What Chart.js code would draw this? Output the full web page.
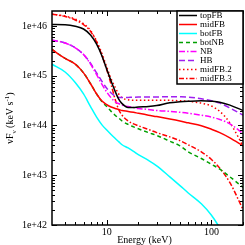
<!DOCTYPE html>
<html>
<head>
<meta charset="utf-8">
<script src="https://cdn.jsdelivr.net/npm/chart.js@4"></script>
<style>
  html, body { margin: 0; padding: 0; background: #fff; }
</style>
</head>
<body>
<canvas id="myChart" width="245" height="245"></canvas>
<script>
// energías (keV) donde se leen las curvas
const energia = [3, 4, 5, 6, 7, 8, 9, 10, 11, 12, 13, 14, 16, 18, 20, 25, 30, 40, 50, 60, 80, 100, 120, 150, 200];

// nuFnu (keV s^-1) de cada modelo
const topFB = [1.07e46, 1.06e46, 9.9e45, 8.7e45, 6.6e45, 4.3e45, 2.5e45, 1.35e45, 7.8e44, 4.9e44, 3.4e44, 2.75e44, 2.3e44, 2.3e44, 2.35e44, 2.4e44, 2.51e44, 2.87e44, 3.0e44, 3.07e44, 3.14e44, 3.07e44, 2.94e44, 2.57e44, 2.0e44];
const midFB = [3.37e45, 2.23e45, 1.71e45, 1.14e45, 6.9e44, 4.3e44, 3.1e44, 2.63e44, 2.35e44, 2.2e44, 2.1e44, 2.0e44, 1.92e44, 1.84e44, 1.76e44, 1.61e44, 1.51e44, 1.35e44, 1.23e44, 1.13e44, 9.9e43, 8.4e43, 7.2e43, 5.65e43, 3.9e43];
const botFB = [1.7e45, 1.19e45, 7.3e44, 4.3e44, 2.4e44, 1.47e44, 1.03e44, 8.1e43, 6.6e43, 5.53e43, 4.73e43, 4.1e43, 3.54e43, 3.03e43, 2.6e43, 1.99e43, 1.55e43, 9.3e42, 6.2e42, 4.4e42, 2.67e42, 1.57e42, 8.8e41, null, null];
const botNB = [3.37e45, 2.23e45, 1.71e45, 1.14e45, 6.9e44, 4.3e44, 3.0e44, 2.4e44, 1.92e44, 1.61e44, 1.41e44, 1.23e44, 1.05e44, 9.4e43, 8.6e43, 7.2e43, 6.3e43, 4.84e43, 3.9e43, 2.96e43, 2.17e43, 1.66e43, 1.33e43, 9.3e42, 5.7e42];
const NB = [5.2e45, 4.55e45, 3.64e45, 2.67e45, 1.71e45, 1.05e45, 6.7e44, 4.7e44, 3.6e44, 3.0e44, 2.75e44, 2.57e44, 2.4e44, 2.3e44, 2.2e44, 2.1e44, 2.0e44, 1.92e44, 1.84e44, 1.76e44, 1.61e44, 1.47e44, 1.32e44, 1.08e44, 6.9e43];
const HB = [5.2e45, 4.55e45, 3.64e45, 2.67e45, 1.78e45, 1.14e45, 7.7e44, 5.6e44, 4.5e44, 3.9e44, 3.67e44, 3.64e44, 3.67e44, 3.7e44, 3.72e44, 3.74e44, 3.75e44, 3.8e44, 3.78e44, 3.72e44, 3.44e44, 3.14e44, 2.81e44, 2.25e44, 1.61e44];
const midFB2 = [1.73e46, 1.58e46, 1.38e46, 1.11e46, 8.1e45, 4.97e45, 2.79e45, 1.49e45, 8.7e44, 5.9e44, 4.3e44, 3.6e44, 3.3e44, 3.2e44, 3.2e44, 3.2e44, 3.2e44, 3.2e44, 3.14e44, 3.07e44, 2.81e44, 2.46e44, 1.92e44, 1.13e44, 3.9e43];
const midFB3 = [1.73e46, 1.55e46, 1.32e46, 1.06e46, 7.8e45, 4.75e45, 2.55e45, 1.31e45, 6.7e44, 3.4e44, 2.1e44, 1.61e44, 1.23e44, 1.08e44, 9.9e43, 8.3e43, 7.2e43, 5.9e43, 4.95e43, 4.1e43, 2.96e43, 2.07e43, 1.39e43, 7.1e42, 2.05e42];

// marcas de los ejes
const xMarcas = [10, 100];
const xEtiquetas = ['10', '100'];
const xMenores = [4, 5, 6, 7, 8, 9, 20, 30, 40, 50, 60, 70, 80, 90, 200];
const yMarcas = [1e42, 1e43, 1e44, 1e45, 1e46];
const yEtiquetas = ['1e+42', '1e+43', '1e+44', '1e+45', '1e+46'];
const yMenores = [];
[42, 43, 44, 45].forEach(d => { for (let k = 2; k <= 9; k++) yMenores.push(k * Math.pow(10, d)); });

const puntos = serie => energia.map((e, i) => ({ x: e, y: serie[i] }));

const series = [
  { label: 'topFB', data: topFB, color: '#000000', dash: [] },
  { label: 'midFB', data: midFB, color: '#ff0000', dash: [] },
  { label: 'botFB', data: botFB, color: '#00ffff', dash: [] },
  { label: 'botNB', data: botNB, color: '#00a000', dash: [4, 3] },
  { label: 'NB', data: NB, color: '#ff00ff', dash: [6, 2, 1.5, 2] },
  { label: 'HB', data: HB, color: '#a020f0', dash: [6, 3] },
  { label: 'midFB.2', data: midFB2, color: '#ff0000', dash: [1.5, 2.5] },
  { label: 'midFB.3', data: midFB3, color: '#ff0000', dash: [5, 2, 1.5, 2] }
];

const fuente = "'Liberation Serif', 'DejaVu Serif', serif";

// marco, marcas interiores, leyenda y títulos de los ejes
const marcoPlugin = {
  id: 'marco',
  afterDraw(chart) {
    const ctx = chart.ctx;
    const a = chart.chartArea;
    const xs = chart.scales.x;
    const ys = chart.scales.y;
    ctx.save();
    ctx.strokeStyle = '#000';
    ctx.lineWidth = 1;
    const linea = (x1, y1, x2, y2) => { ctx.beginPath(); ctx.moveTo(x1, y1); ctx.lineTo(x2, y2); ctx.stroke(); };

    xMarcas.concat(xMenores).forEach(v => {
      const px = Math.round(xs.getPixelForValue(v)) + 0.5;
      const largo = xMarcas.includes(v) ? 5 : 3;
      linea(px, a.bottom, px, a.bottom - largo);
      linea(px, a.top, px, a.top + largo);
    });
    yMarcas.concat(yMenores).forEach(v => {
      const py = Math.round(ys.getPixelForValue(v)) + 0.5;
      const largo = yMarcas.includes(v) ? 5 : 3;
      linea(a.left, py, a.left + largo, py);
      linea(a.right, py, a.right - largo, py);
    });

    ctx.lineWidth = 1.5;
    ctx.strokeRect(a.left, a.top, a.right - a.left, a.bottom - a.top);

    // leyenda
    const lx = 177, ly = a.top, lw = a.right - lx, lh = 73;
    ctx.fillStyle = '#fff';
    ctx.fillRect(lx, ly, lw, lh);
    ctx.strokeRect(lx, ly, lw, lh);
    ctx.font = '9px ' + fuente;
    ctx.textBaseline = 'middle';
    ctx.textAlign = 'left';
    chart.data.datasets.forEach((ds, i) => {
      const y = ly + 4.5 + i * 9;
      ctx.strokeStyle = ds.borderColor;
      ctx.lineWidth = 1.5;
      ctx.setLineDash(ds.borderDash || []);
      linea(179, y, 197, y);
      ctx.setLineDash([]);
      ctx.fillStyle = '#000';
      ctx.fillText(ds.label, 200, y + 0.5);
    });

    // título eje x
    ctx.fillStyle = '#000';
    ctx.font = '10px ' + fuente;
    ctx.textAlign = 'center';
    ctx.fillText('Energy (keV)', (a.left + a.right) / 2 - 3, 240);

    // título eje y con subíndice y superíndice
    const partes = [
      { t: 'νF', s: 10, dy: 0 },
      { t: 'ν', s: 7, dy: 2.5 },
      { t: ' (keV s', s: 10, dy: 0 },
      { t: '-1', s: 7, dy: -4 },
      { t: ')', s: 10, dy: 0 }
    ];
    let total = 0;
    partes.forEach(p => { ctx.font = p.s + 'px ' + fuente; p.w = ctx.measureText(p.t).width; total += p.w; });
    ctx.translate(13, (a.top + a.bottom) / 2);
    ctx.rotate(-Math.PI / 2);
    ctx.textAlign = 'left';
    ctx.textBaseline = 'alphabetic';
    let x = -total / 2;
    partes.forEach(p => {
      ctx.font = p.s + 'px ' + fuente;
      ctx.fillText(p.t, x, p.dy);
      x += p.w;
    });
    ctx.restore();
  }
};

new Chart(document.getElementById('myChart').getContext('2d'), {
  type: 'line',
  data: {
    datasets: series.map(s => ({
      label: s.label,
      data: puntos(s.data),
      borderColor: s.color,
      borderDash: s.dash,
      borderWidth: 1.5,
      pointRadius: 0,
      fill: false,
      cubicInterpolationMode: 'monotone'
    }))
  },
  options: {
    responsive: false,
    animation: false,
    events: [],
    layout: { padding: { top: 2, right: 2, left: 0, bottom: 0 } },
    plugins: { legend: { display: false }, tooltip: { enabled: false } },
    scales: {
      x: {
        type: 'logarithmic',
        min: 3,
        max: 200,
        grid: { display: false, drawTicks: false },
        border: { display: false },
        afterBuildTicks: scale => { scale.ticks = xMarcas.map(v => ({ value: v })); },
        afterFit: scale => { scale.height = 20; },
        ticks: {
          autoSkip: false,
          maxRotation: 0,
          padding: 1,
          color: '#000',
          font: { family: fuente, size: 10 },
          callback: (v, i) => xEtiquetas[i]
        }
      },
      y: {
        type: 'logarithmic',
        min: 1e42,
        max: 2e46,
        grid: { display: false, drawTicks: false },
        border: { display: false },
        afterBuildTicks: scale => { scale.ticks = yMarcas.map(v => ({ value: v })); },
        afterFit: scale => { scale.width = 52; },
        ticks: {
          autoSkip: false,
          padding: 5,
          color: '#000',
          font: { family: fuente, size: 10 },
          callback: (v, i) => yEtiquetas[i]
        }
      }
    }
  },
  plugins: [marcoPlugin]
});
</script>
</body>
</html>
